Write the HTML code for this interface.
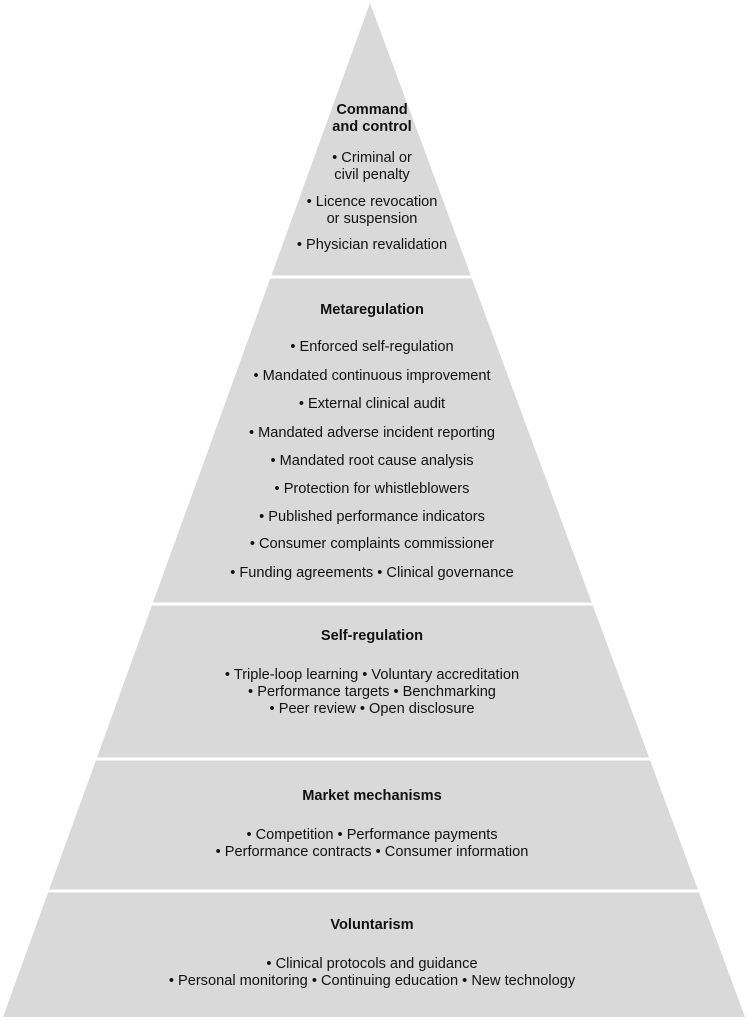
<!DOCTYPE html>
<html><head><meta charset="utf-8"><style>
body{margin:0;background:#fff;width:747px;height:1020px;position:relative;overflow:hidden;font-family:"Liberation Sans",Arial,sans-serif;}
.t{position:absolute;left:0;width:744px;text-align:center;font-size:14.6px;color:#111;line-height:17px;white-space:nowrap}
.b{font-weight:bold}
</style></head><body>
<svg width="747" height="1020" style="position:absolute;left:0;top:0">
<polygon points="370,3 745,1017 3,1017" fill="#d9d9d9"/>
<g stroke="#fff" stroke-width="3">
<line x1="0" y1="277" x2="747" y2="277"/>
<line x1="0" y1="604" x2="747" y2="604"/>
<line x1="0" y1="759" x2="747" y2="759"/>
<line x1="0" y1="891" x2="747" y2="891"/>
</g>
</svg>
<div class="t b" style="top:102px">Command<br>and control</div>
<div class="t" style="top:150px">• Criminal or<br>civil penalty</div>
<div class="t" style="top:194px">• Licence revocation<br>or suspension</div>
<div class="t" style="top:237px">• Physician revalidation</div>
<div class="t b" style="top:302px">Metaregulation</div>
<div class="t" style="top:339px">• Enforced self-regulation</div>
<div class="t" style="top:368px">• Mandated continuous improvement</div>
<div class="t" style="top:396px">• External clinical audit</div>
<div class="t" style="top:425px">• Mandated adverse incident reporting</div>
<div class="t" style="top:453px">• Mandated root cause analysis</div>
<div class="t" style="top:481px">• Protection for whistleblowers</div>
<div class="t" style="top:509px">• Published performance indicators</div>
<div class="t" style="top:536px">• Consumer complaints commissioner</div>
<div class="t" style="top:565px">• Funding agreements • Clinical governance</div>
<div class="t b" style="top:628px">Self-regulation</div>
<div class="t" style="top:667px">• Triple-loop learning • Voluntary accreditation<br>• Performance targets • Benchmarking<br>• Peer review • Open disclosure</div>
<div class="t b" style="top:788px">Market mechanisms</div>
<div class="t" style="top:827px">• Competition • Performance payments<br>• Performance contracts • Consumer information</div>
<div class="t b" style="top:917px">Voluntarism</div>
<div class="t" style="top:956px">• Clinical protocols and guidance<br>• Personal monitoring • Continuing education • New technology</div>
</body></html>
